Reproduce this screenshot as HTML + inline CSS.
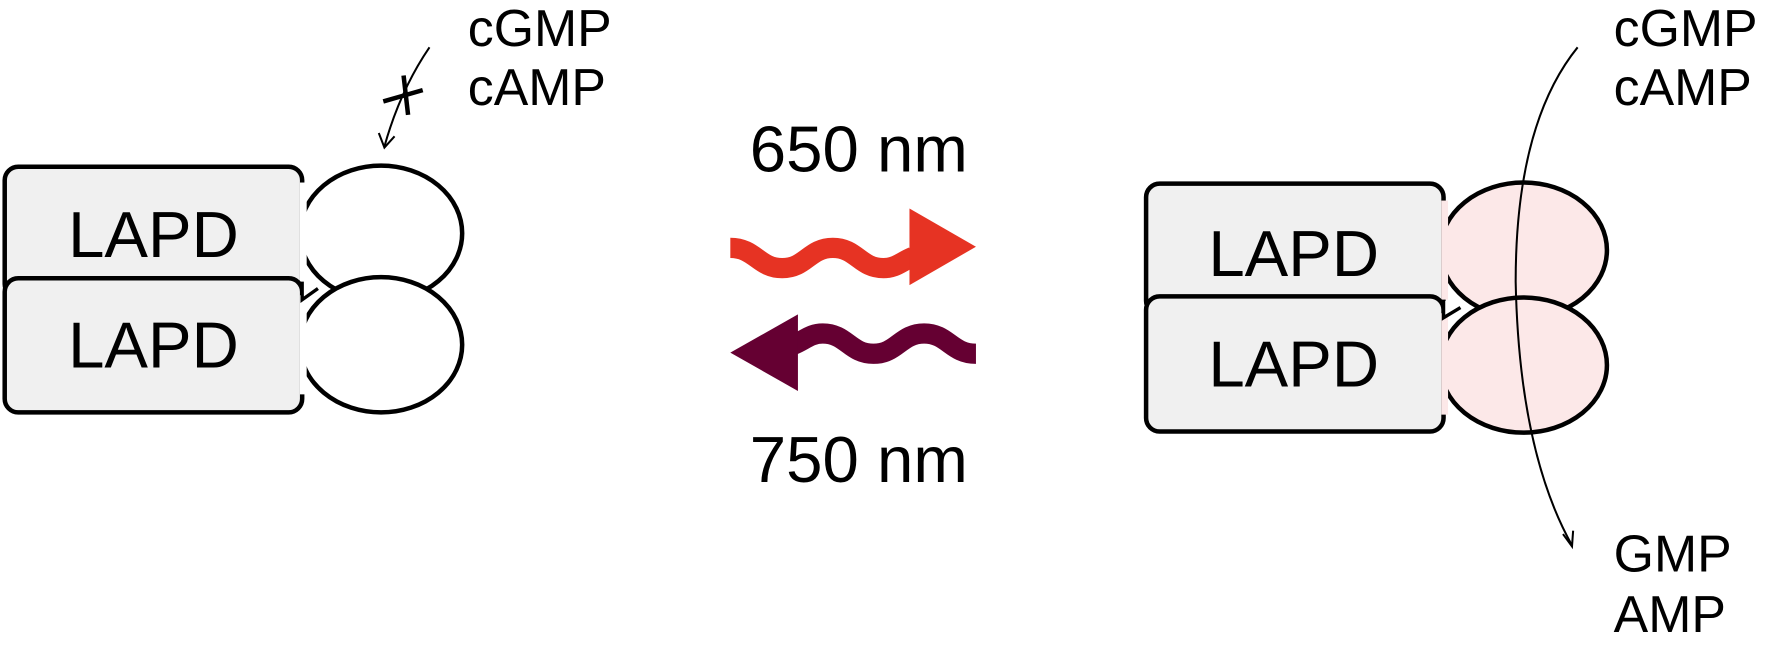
<!DOCTYPE html>
<html><head><meta charset="utf-8"><style>html,body{margin:0;padding:0;background:#fff;}svg{display:block}</style></head>
<body>
<svg width="1766" height="649" viewBox="0 0 1567 576" xmlns="http://www.w3.org/2000/svg" font-family="Liberation Sans, Arial, sans-serif">
<defs>
<clipPath id="cl"><rect x="268" y="0" width="300" height="576"/></clipPath>
<clipPath id="cr"><rect x="1281" y="0" width="300" height="576"/></clipPath>
</defs>
<g stroke="#000" stroke-width="4">
<ellipse cx="338" cy="207" rx="72" ry="60" fill="#fff" clip-path="url(#cl)"/>
<rect x="4" y="148" width="264" height="116" rx="12" fill="#f0f0f0"/>
<rect x="266" y="162" width="6" height="90" fill="#fff" stroke="none"/>
<ellipse cx="338" cy="306" rx="72" ry="60" fill="#fff" clip-path="url(#cl)"/>
<rect x="4" y="247" width="264" height="119" rx="12" fill="#f0f0f0"/>
<rect x="266" y="262" width="6" height="88" fill="#fff" stroke="none"/>
<path d="M268 250 L268 266 L282 256" fill="#fff" stroke-width="3"/>
</g>
<text x="136" y="228" font-size="58" text-anchor="middle">LAPD</text>
<text x="136" y="326" font-size="58" text-anchor="middle">LAPD</text>
<path d="M381 42 Q355 80 341 130" fill="none" stroke="#000" stroke-width="1.8"/>
<path d="M336 118 L341 131 L350 121" fill="none" stroke="#000" stroke-width="1.8"/>
<path d="M340 90 L375 80 M358 67 L362 102" stroke="#000" stroke-width="4"/>
<text x="415" y="41" font-size="46">cGMP</text>
<text x="415" y="93" font-size="46">cAMP</text>
<text x="762" y="152" font-size="58" text-anchor="middle">650 nm</text>
<text x="762" y="428" font-size="58" text-anchor="middle">750 nm</text>
<path d="M648 220 C670 220 673 238 694 238 C715 238 718 220 739 220 C760 220 763 238 784 238 C795 238 800 232 810 228" fill="none" stroke="#e63323" stroke-width="18"/>
<polygon points="807,185 866,219 807,253" fill="#e63323"/>
<path d="M866 314 C844 314 841 296 820 296 C799 296 796 314 775 314 C754 314 751 296 730 296 C719 296 714 302 704 306" fill="none" stroke="#650032" stroke-width="18"/>
<polygon points="708,279 648,313 708,347" fill="#650032"/>
<g stroke="#000" stroke-width="4">
<ellipse cx="1352" cy="222" rx="74" ry="60" fill="#fce8e8" clip-path="url(#cr)"/>
<rect x="1017" y="163" width="264" height="116" rx="12" fill="#f0f0f0"/>
<rect x="1279" y="178" width="6" height="88" fill="#fce8e8" stroke="none"/>
<ellipse cx="1352" cy="324" rx="74" ry="60" fill="#fce8e8" clip-path="url(#cr)"/>
<rect x="1017" y="263" width="264" height="120" rx="12" fill="#f0f0f0"/>
<rect x="1279" y="278" width="6" height="90" fill="#fce8e8" stroke="none"/>
<path d="M1281 266 L1281 282 L1296 273" fill="#fff" stroke-width="3"/>
</g>
<text x="1148" y="245" font-size="58" text-anchor="middle">LAPD</text>
<text x="1148" y="343" font-size="58" text-anchor="middle">LAPD</text>
<path d="M1400 42 Q1345 110 1345 250 Q1348 400 1395 484" fill="none" stroke="#000" stroke-width="1.8"/>
<path d="M1387 474 L1395 485 L1396 471" fill="none" stroke="#000" stroke-width="1.8"/>
<text x="1432" y="41" font-size="46">cGMP</text>
<text x="1432" y="93" font-size="46">cAMP</text>
<text x="1432" y="507" font-size="46">GMP</text>
<text x="1432" y="561" font-size="46">AMP</text>
</svg>
</body></html>
